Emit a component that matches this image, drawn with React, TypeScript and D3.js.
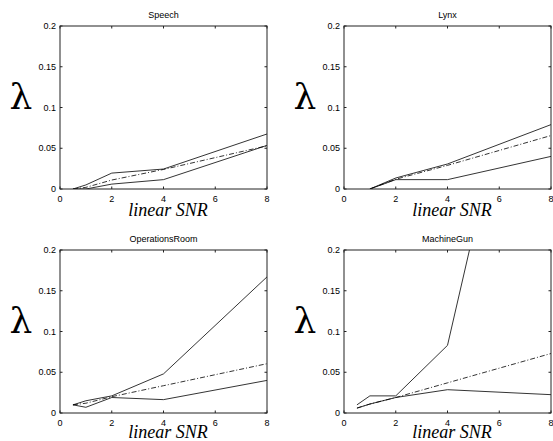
import React from "react";
import * as d3 from "d3";

const snr = [0.5, 1, 2, 4, 8];
const titles = ["Speech", "Lynx", "OperationsRoom", "MachineGun"];
const xTicks = [0, 2, 4, 6, 8];
const yTicks = [0, 0.05, 0.1, 0.15, 0.2];
const yTickLabels = ["0", "0.05", "0.1", "0.15", "0.2"];

const speechUpper = [0, 0.005, 0.0195, 0.0245, 0.0675];
const speechMid = [0, 0.002, 0.011, 0.024, 0.053];
const speechLower = [0, 0, 0.006, 0.0115, 0.0535];

const lynxUpper = [null, 0, 0.0135, 0.0307, 0.079];
const lynxMid = [null, 0, 0.012, 0.029, 0.0656];
const lynxLower = [null, 0, 0.0115, 0.0115, 0.04];

const opsUpper = [0.01, 0.015, 0.021, 0.048, 0.167];
const opsMid = [0.01, 0.012, 0.02, 0.0335, 0.0605];
const opsLower = [0.01, 0.007, 0.019, 0.0164, 0.04];

const gunUpper = [0.01, 0.021, 0.021, 0.083, 0.634];
const gunMid = [0.006, 0.011, 0.019, 0.037, 0.073];
const gunLower = [0.006, 0.011, 0.019, 0.0286, 0.0225];

const panelSeries = [
  [speechUpper, speechMid, speechLower],
  [lynxUpper, lynxMid, lynxLower],
  [opsUpper, opsMid, opsLower],
  [gunUpper, gunMid, gunLower],
];

const W = 553;
const H = 441;
const lefts = [60, 344, 60, 344];
const tops = [26, 26, 250, 250];
const snrOffsets = [27, 27, 25, 25];
const pw = 207;
const ph = 163;

function Panel({ idx }: { idx: number }) {
  const L = lefts[idx];
  const T = tops[idx];
  const x = d3.scaleLinear().domain([0, 8]).range([L, L + pw]);
  const y = d3.scaleLinear().domain([0, 0.2]).range([T + ph, T]);
  const line = d3
    .line<number | null>()
    .defined((d) => d !== null)
    .x((_, i) => x(snr[i]))
    .y((d) => y(d as number));
  const clipId = `clip${idx}`;
  const tl = 2.5;
  const series = panelSeries[idx];
  return (
    <g>
      <defs>
        <clipPath id={clipId}>
          <rect x={L} y={T} width={pw} height={ph} />
        </clipPath>
      </defs>
      <text
        x={L + pw / 2}
        y={T - 8}
        textAnchor="middle"
        fontFamily="Liberation Sans, Arial, sans-serif"
        fontSize={9}
        fill="#000"
      >
        {titles[idx]}
      </text>
      <g clipPath={`url(#${clipId})`}>
        {series.map((s, si) => (
          <path
            key={si}
            d={line(s) || ""}
            fill="none"
            stroke="#000"
            strokeWidth={0.8}
            strokeDasharray={si === 1 ? "5,2,1,2" : undefined}
          />
        ))}
      </g>
      <rect x={L} y={T} width={pw} height={ph} fill="none" stroke="#222" strokeWidth={1} />
      {xTicks.map((t) => (
        <g key={"x" + t}>
          <line x1={x(t)} x2={x(t)} y1={T + ph} y2={T + ph - tl} stroke="#222" />
          <line x1={x(t)} x2={x(t)} y1={T} y2={T + tl} stroke="#222" />
          <text
            x={x(t)}
            y={T + ph + 13}
            textAnchor="middle"
            fontFamily="Liberation Sans, Arial, sans-serif"
            fontSize={9}
          >
            {t}
          </text>
        </g>
      ))}
      {yTicks.map((t, i) => (
        <g key={"y" + t}>
          <line x1={L} x2={L + tl} y1={y(t)} y2={y(t)} stroke="#222" />
          <line x1={L + pw} x2={L + pw - tl} y1={y(t)} y2={y(t)} stroke="#222" />
          <text
            x={L - 4}
            y={y(t) + 3}
            textAnchor="end"
            fontFamily="Liberation Sans, Arial, sans-serif"
            fontSize={9}
          >
            {yTickLabels[i]}
          </text>
        </g>
      ))}
      <text
        x={L - 39}
        y={T + 83}
        textAnchor="middle"
        fontFamily="DejaVu Serif, serif"
        fontSize={36}
      >
        λ
      </text>
      <text
        x={L + pw / 2 + 4.5}
        y={T + ph + snrOffsets[idx]}
        textAnchor="middle"
        fontFamily="Liberation Serif, Times New Roman, serif"
        fontStyle="italic"
        fontSize={18}
      >
        linear SNR
      </text>
    </g>
  );
}

export default function App() {
  return (
    <svg
      width={W}
      height={H}
      style={{ position: "absolute", left: 0, top: 0, background: "#fff" }}
    >
      <rect width={W} height={H} fill="#fff" />
      {[0, 1, 2, 3].map((i) => (
        <Panel key={i} idx={i} />
      ))}
    </svg>
  );
}
